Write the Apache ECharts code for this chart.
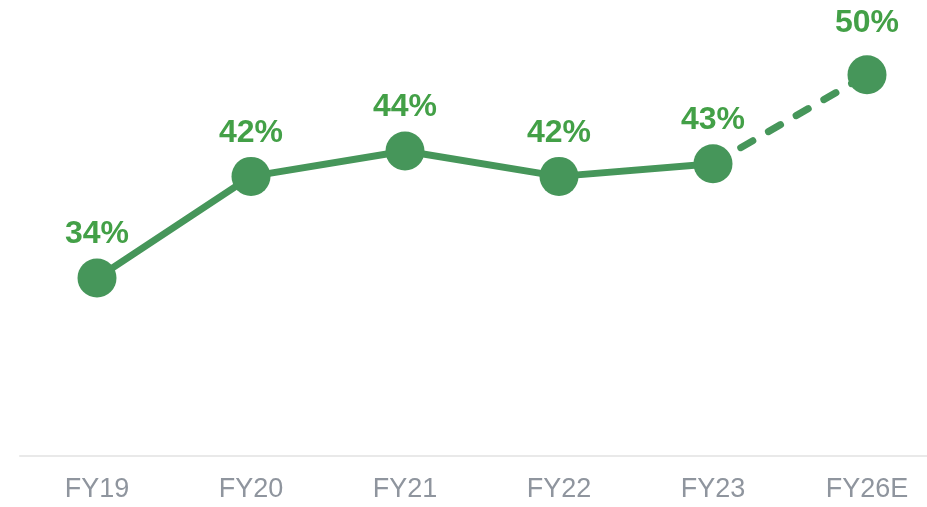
<!DOCTYPE html>
<html>
<head>
<meta charset="utf-8">
<script src="https://cdn.jsdelivr.net/npm/echarts@6/dist/echarts.min.js"></script>
<style>
  html, body { margin: 0; padding: 0; background: #ffffff; overflow: hidden; }
  #chart { width: 944px; height: 507px; }
</style>
</head>
<body>
<div id="chart"></div>
<script>
const categories = ["FY19", "FY20", "FY21", "FY22", "FY23", "FY26E"];
const values = [34, 42, 44, 42, 43, 50];
const lastActualIndex = 4; // FY23: solid line ends here, dashed projection follows

const lineColor = "#46965a";
const labelColor = "#43a047";

const solidData = values.map((v, i) => (i <= lastActualIndex ? v : null));
const dashedData = values.map((v, i) => {
  if (i < lastActualIndex) return null;
  if (i === lastActualIndex) return { value: v, symbol: "none", label: { show: false } };
  return { value: v, label: { distance: 16 } };
});

const labelStyle = {
  show: true,
  position: "top",
  distance: 8,
  color: labelColor,
  fontSize: 32,
  fontWeight: "bold",
  fontFamily: "Liberation Sans, Arial, sans-serif",
  formatter: (p) => p.value + "%"
};

const chart = echarts.init(document.getElementById("chart"), null, { renderer: "canvas" });
chart.setOption({
  animation: false,
  backgroundColor: "#ffffff",
  grid: { left: 20, right: 0, top: 74.7, bottom: 51, containLabel: false },
  xAxis: {
    type: "category",
    data: categories,
    boundaryGap: true,
    axisLine: { show: true, lineStyle: { color: "#e9e9e9", width: 2 } },
    axisTick: { show: false },
    splitLine: { show: false },
    axisLabel: {
      color: "#8f959e",
      fontSize: 27,
      margin: 20,
      fontFamily: "Liberation Sans, Arial, sans-serif"
    }
  },
  yAxis: {
    type: "value",
    min: 20,
    max: 50,
    show: false,
    splitLine: { show: false }
  },
  series: [
    {
      type: "line",
      data: dashedData,
      symbol: "circle",
      symbolSize: 39,
      lineStyle: { color: lineColor, width: 7, type: [14, 18], cap: "round" },
      itemStyle: { color: lineColor },
      label: labelStyle,
      connectNulls: false,
      z: 2
    },
    {
      type: "line",
      data: solidData,
      symbol: "circle",
      symbolSize: 39,
      lineStyle: { color: lineColor, width: 7 },
      itemStyle: { color: lineColor },
      label: labelStyle,
      connectNulls: false,
      z: 3
    }
  ]
});
</script>
</body>
</html>
